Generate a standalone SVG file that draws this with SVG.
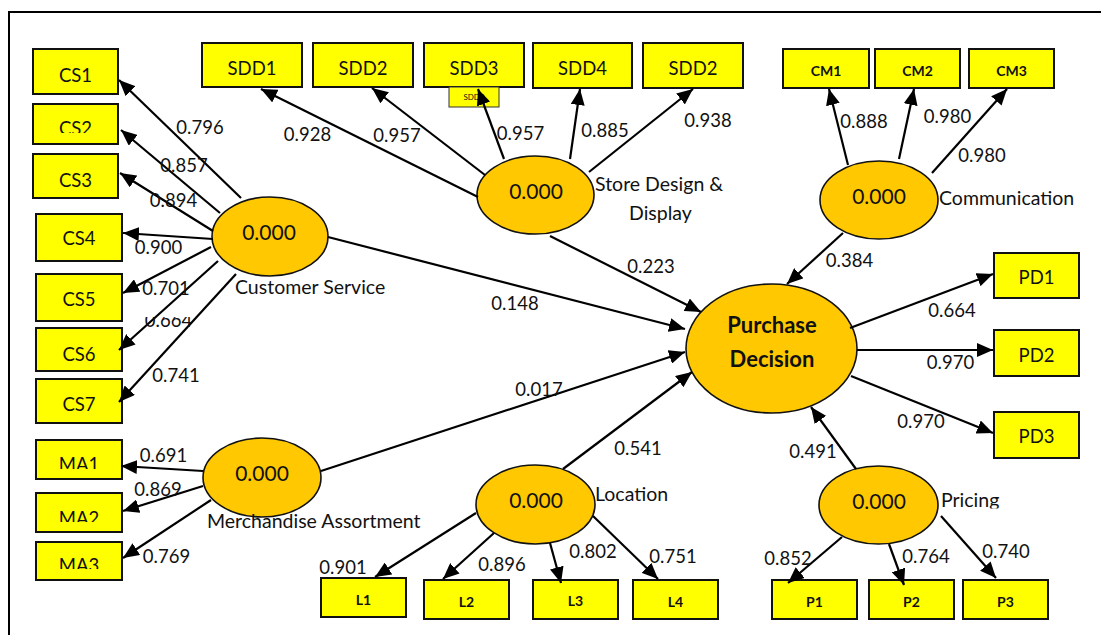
<svg xmlns="http://www.w3.org/2000/svg" width="1101" height="635" viewBox="0 0 1101 635">
  <style>
    .box { fill: #FFFF00; stroke: #111; stroke-width: 2; }
    .lv { fill: #FFC800; stroke: #111; stroke-width: 1.6; }
    .t { font-family: Lato, "Liberation Sans", sans-serif; fill: #111; text-anchor: middle; }
    .ind { font-size: 18.5px; }
    .indb { font-size: 14px; font-weight: bold; }
    .val { font-size: 18.5px; }
    .lvv { font-size: 21px; }
    .name { font-size: 19.5px; text-anchor: start; }
    .pd { font-size: 22px; font-weight: bold; }
    .edge { stroke: #000; stroke-width: 2.2; fill: none; marker-end: url(#head); }
  </style>
  <defs>
    <marker id="head" markerUnits="userSpaceOnUse" markerWidth="17" markerHeight="14" refX="16" refY="7" orient="auto">
      <path d="M0,0 L16,7 L0,14 z" fill="#000"/>
    </marker>
    <clipPath id="clipCS2"><rect x="30" y="100" width="95" height="33"/></clipPath>
    <clipPath id="clipMA1"><rect x="30" y="436" width="95" height="33"/></clipPath>
    <clipPath id="clipMA2"><rect x="30" y="489" width="95" height="33"/></clipPath>
    <clipPath id="clipMA3"><rect x="30" y="538" width="95" height="31"/></clipPath>
    <clipPath id="clipPricing"><rect x="930" y="480" width="100" height="28.5"/></clipPath>
    <clipPath id="clipV664"><rect x="130" y="317" width="80" height="20"/></clipPath>
  </defs>

  <!-- frame -->
  <rect x="9" y="12" width="1100" height="640" fill="#fff" stroke="#000" stroke-width="2"/>

  <!-- Customer Service block -->
  <g id="cs1"><rect class="box" x="33" y="49" width="85" height="45"/><text class="t ind" x="75.5" y="81.5">CS1</text></g>
  <g id="cs2"><rect class="box" x="33" y="104" width="85" height="40"/><text class="t ind" x="75.5" y="135" clip-path="url(#clipCS2)">CS2</text></g>
  <g id="cs3"><rect class="box" x="33" y="154" width="85" height="44"/><text class="t ind" x="75.5" y="186.5">CS3</text></g>
  <g id="cs4"><rect class="box" x="36" y="214" width="86" height="47"/><text class="t ind" x="79" y="245">CS4</text></g>
  <g id="cs5"><rect class="box" x="36" y="274" width="86" height="47"/><text class="t ind" x="79" y="306">CS5</text></g>
  <g id="cs6"><rect class="box" x="36" y="328" width="86" height="43"/><text class="t ind" x="79" y="360.5">CS6</text></g>
  <g id="cs7"><rect class="box" x="36" y="379" width="86" height="44"/><text class="t ind" x="79" y="410.5">CS7</text></g>
  <g id="customer-service">
    <ellipse class="lv" cx="270" cy="236.5" rx="58" ry="39.5"/>
    <text class="t lvv" x="269" y="240">0.000</text>
    <text class="t name" x="235" y="294">Customer Service</text>
  </g>

  <!-- Merchandise Assortment block -->
  <g id="ma1"><rect class="box" x="36" y="440" width="86" height="39"/><text class="t ind" x="79" y="470.5" clip-path="url(#clipMA1)">MA1</text></g>
  <g id="ma2"><rect class="box" x="36" y="493" width="86" height="39"/><text class="t ind" x="79" y="524.5" clip-path="url(#clipMA2)">MA2</text></g>
  <g id="ma3"><rect class="box" x="36" y="542" width="86" height="38"/><text class="t ind" x="79" y="571.5" clip-path="url(#clipMA3)">MA3</text></g>
  <g id="merchandise-assortment">
    <ellipse class="lv" cx="262" cy="477.5" rx="59" ry="39.5"/>
    <text class="t lvv" x="262" y="481">0.000</text>
    <text class="t name" x="207" y="528">Merchandise Assortment</text>
  </g>

  <!-- Store Design & Display block -->
  <g id="sdd1"><rect class="box" x="202" y="43" width="100" height="44"/><text class="t ind" x="252" y="74.5">SDD1</text></g>
  <g id="sdd2"><rect class="box" x="313" y="43" width="100" height="44"/><text class="t ind" x="363" y="74.5">SDD2</text></g>
  <g id="sdd3"><rect class="box" x="424" y="43" width="100" height="44"/><text class="t ind" x="474" y="74.5">SDD3</text></g>
  <g id="sdd3-tag"><rect x="449" y="87" width="50" height="20" fill="#FFFF00" stroke="#333" stroke-width="1"/><text class="t" x="474" y="100" font-size="8px">SDD3</text></g>
  <g id="sdd4"><rect class="box" x="533" y="43" width="99" height="45"/><text class="t ind" x="582.5" y="75">SDD4</text></g>
  <g id="sdd5"><rect class="box" x="643" y="43" width="100" height="45"/><text class="t ind" x="693" y="75">SDD2</text></g>
  <g id="store-design">
    <ellipse class="lv" cx="535.5" cy="195" rx="58.5" ry="39"/>
    <text class="t lvv" x="536" y="198.5">0.000</text>
    <text class="t name" x="595" y="191">Store Design &amp;</text>
    <text class="t name" x="629" y="220">Display</text>
  </g>

  <!-- Communication block -->
  <g id="cm1"><rect class="box" x="783" y="49" width="86" height="39"/><text class="t indb" x="826" y="76">CM1</text></g>
  <g id="cm2"><rect class="box" x="875" y="49" width="85" height="39"/><text class="t indb" x="917.5" y="76">CM2</text></g>
  <g id="cm3"><rect class="box" x="969" y="49" width="85" height="39"/><text class="t indb" x="1011.5" y="76">CM3</text></g>
  <g id="communication">
    <ellipse class="lv" cx="879" cy="200" rx="59" ry="39"/>
    <text class="t lvv" x="879" y="203.5">0.000</text>
    <text class="t name" x="939" y="205">Communication</text>
  </g>

  <!-- Purchase Decision block -->
  <g id="purchase-decision">
    <ellipse class="lv" cx="771.5" cy="348.5" rx="85.5" ry="64.5"/>
    <text class="t pd" x="772" y="333">Purchase</text>
    <text class="t pd" x="772" y="367">Decision</text>
  </g>
  <g id="pd1"><rect class="box" x="994" y="253" width="85" height="45"/><text class="t ind" x="1036.5" y="284">PD1</text></g>
  <g id="pd2"><rect class="box" x="994" y="330" width="85" height="46"/><text class="t ind" x="1036.5" y="361.5">PD2</text></g>
  <g id="pd3"><rect class="box" x="994" y="412" width="85" height="46"/><text class="t ind" x="1036.5" y="443">PD3</text></g>

  <!-- Location block -->
  <g id="location">
    <ellipse class="lv" cx="535.5" cy="504.5" rx="59.5" ry="39.5"/>
    <text class="t lvv" x="536" y="508">0.000</text>
    <text class="t name" x="595" y="501">Location</text>
  </g>
  <g id="l1"><rect class="box" x="321" y="578" width="85" height="39"/><text class="t indb" x="363.5" y="605">L1</text></g>
  <g id="l2"><rect class="box" x="424" y="580" width="85" height="39"/><text class="t indb" x="466.5" y="607">L2</text></g>
  <g id="l3"><rect class="box" x="533" y="580" width="85" height="39"/><text class="t indb" x="575.5" y="606">L3</text></g>
  <g id="l4"><rect class="box" x="633" y="580" width="85" height="39"/><text class="t indb" x="675.5" y="607">L4</text></g>

  <!-- Pricing block -->
  <g id="pricing">
    <ellipse class="lv" cx="878.5" cy="505" rx="59.5" ry="39"/>
    <text class="t lvv" x="879" y="508.5">0.000</text>
    <text class="t name" x="941" y="506.5" clip-path="url(#clipPricing)">Pricing</text>
  </g>
  <g id="p1"><rect class="box" x="772" y="580" width="85" height="39"/><text class="t indb" x="814.5" y="607">P1</text></g>
  <g id="p2"><rect class="box" x="869" y="580" width="85" height="39"/><text class="t indb" x="911.5" y="607">P2</text></g>
  <g id="p3"><rect class="box" x="963" y="580" width="85" height="39"/><text class="t indb" x="1005.5" y="607">P3</text></g>

  <!-- connectors -->
  <g id="connectors">
    <line class="edge" x1="241" y1="198" x2="119" y2="80"/>
    <line class="edge" x1="220" y1="213" x2="121" y2="130"/>
    <line class="edge" x1="213" y1="231" x2="120" y2="173"/>
    <line class="edge" x1="213" y1="239" x2="123" y2="233"/>
    <line class="edge" x1="211" y1="247" x2="123" y2="293"/>
    <line class="edge" x1="218" y1="261" x2="119" y2="350"/>
    <line class="edge" x1="236" y1="274" x2="119" y2="402"/>

    <line class="edge" x1="203" y1="471" x2="121" y2="466"/>
    <line class="edge" x1="203" y1="486" x2="123" y2="511"/>
    <line class="edge" x1="211" y1="500" x2="123" y2="558"/>

    <line class="edge" x1="478" y1="197" x2="261" y2="89"/>
    <line class="edge" x1="485" y1="175" x2="372" y2="88"/>
    <line class="edge" x1="504" y1="159" x2="478" y2="89"/>
    <line class="edge" x1="570" y1="159" x2="580" y2="89"/>
    <line class="edge" x1="589" y1="172" x2="693" y2="89"/>

    <line class="edge" x1="848" y1="165" x2="829" y2="89"/>
    <line class="edge" x1="899" y1="159" x2="914" y2="89"/>
    <line class="edge" x1="932" y1="173" x2="1007" y2="89"/>

    <line class="edge" x1="843" y1="233" x2="787" y2="284"/>
    <line class="edge" x1="550" y1="236" x2="701" y2="312"/>
    <line class="edge" x1="328" y1="237" x2="685" y2="329"/>
    <line class="edge" x1="321" y1="471" x2="685" y2="352"/>
    <line class="edge" x1="563" y1="469" x2="692" y2="372"/>
    <line class="edge" x1="856" y1="469" x2="811" y2="407"/>

    <line class="edge" x1="850" y1="328" x2="993" y2="274"/>
    <line class="edge" x1="857" y1="350" x2="993" y2="350"/>
    <line class="edge" x1="851" y1="376" x2="993" y2="433"/>

    <line class="edge" x1="842" y1="537" x2="788" y2="583"/>
    <line class="edge" x1="889" y1="544" x2="904" y2="585"/>
    <line class="edge" x1="941" y1="516" x2="996" y2="578"/>

    <line class="edge" x1="476" y1="513" x2="375" y2="577"/>
    <line class="edge" x1="494" y1="533" x2="443" y2="579"/>
    <line class="edge" x1="550" y1="543" x2="561" y2="583"/>
    <line class="edge" x1="593" y1="516" x2="658" y2="579"/>
  </g>

  <!-- path coefficients and loadings -->
  <g id="values" class="t val">
    <text x="200" y="133.5">0.796</text>
    <text x="184" y="172">0.857</text>
    <text x="173.5" y="207">0.894</text>
    <text x="158.5" y="254">0.900</text>
    <text x="166" y="295">0.701</text>
    <text x="168.5" y="327" clip-path="url(#clipV664)">0.664</text>
    <text x="176" y="382">0.741</text>
    <text x="307.5" y="141">0.928</text>
    <text x="397" y="142">0.957</text>
    <text x="520.5" y="140">0.957</text>
    <text x="605" y="137">0.885</text>
    <text x="708" y="127">0.938</text>
    <text x="864" y="128">0.888</text>
    <text x="947.5" y="123">0.980</text>
    <text x="982" y="162">0.980</text>
    <text x="849.5" y="267">0.384</text>
    <text x="651" y="273">0.223</text>
    <text x="515" y="310">0.148</text>
    <text x="539" y="396">0.017</text>
    <text x="638" y="455">0.541</text>
    <text x="952" y="317">0.664</text>
    <text x="950.5" y="369">0.970</text>
    <text x="921" y="428">0.970</text>
    <text x="813" y="458">0.491</text>
    <text x="788" y="565">0.852</text>
    <text x="926" y="563">0.764</text>
    <text x="1006" y="558">0.740</text>
    <text x="343" y="574">0.901</text>
    <text x="502" y="571">0.896</text>
    <text x="593" y="558">0.802</text>
    <text x="673" y="563">0.751</text>
    <text x="163.5" y="462">0.691</text>
    <text x="158" y="496">0.869</text>
    <text x="166.5" y="563">0.769</text>
  </g>
</svg>
